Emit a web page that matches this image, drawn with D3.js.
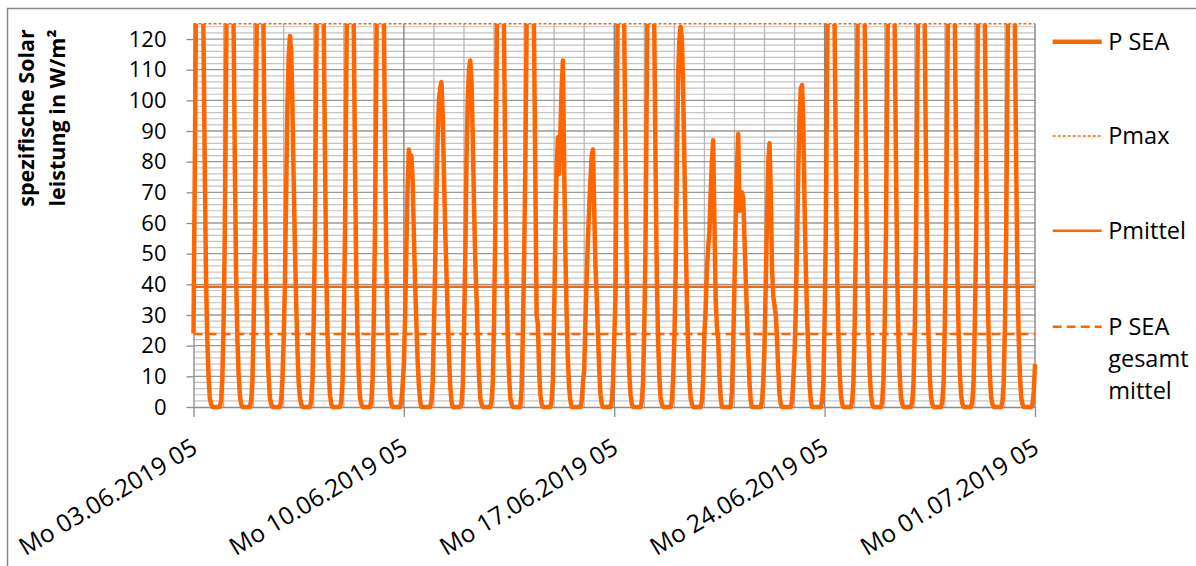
<!DOCTYPE html>
<html>
<head>
<meta charset="utf-8">
<script src="https://cdn.jsdelivr.net/npm/d3@7"></script>
<style>
  body { margin: 0; background: #fff; }
  svg { display: block; font-family: "Open Sans", sans-serif; }
</style>
</head>
<body>
<svg id="chart" width="1196" height="566"></svg>
<script>
// P SEA, hourly values per day: 05:00 .. 04:00 next day (W/m²)
var pSea = [
  [24,75,132,172,192,198,188,160,120,78,42,22,10,3,1,0,0,0,0,0,0,0,2,9],   // Mo 03.06
  [27,56,108,155,186,196,190,163,124,80,44,23,11,4,1,0,0,0,0,0,0,0,2,8],   // Di 04.06
  [26,54,104,150,182,192,184,158,118,76,41,21,10,3,1,0,0,0,0,0,0,0,2,9],   // Mi 05.06
  [22,40,70,98,114,121,116,98,74,52,34,19,8,3,1,0,0,0,0,0,0,0,2,9],        // Do 06.06
  [28,58,110,158,188,199,192,165,126,82,45,24,11,4,1,0,0,0,0,0,0,0,2,8],   // Fr 07.06
  [27,57,106,154,185,195,187,161,122,79,43,23,10,3,1,0,0,0,0,0,0,0,2,9],   // Sa 08.06
  [29,60,112,160,190,200,193,166,127,83,46,25,12,4,1,0,0,0,0,0,0,0,2,7],   // So 09.06
  [14,30,52,72,84,80,82,74,56,40,27,15,7,2,0,0,0,0,0,0,0,0,2,8],           // Mo 10.06
  [26,46,70,88,100,104,106,95,76,58,44,30,17,7,2,0,0,0,0,0,0,0,1,7],       // Di 11.06
  [25,48,80,100,110,113,106,88,66,48,36,22,10,3,1,0,0,0,0,0,0,0,2,8],      // Mi 12.06
  [28,58,110,156,186,196,188,160,120,78,42,22,10,3,1,0,0,0,0,0,0,0,6,24],  // Do 13.06
  [48,78,124,166,192,198,190,160,118,74,30,27,12,4,1,0,0,0,0,0,0,0,2,9],   // Fr 14.06
  [30,58,78,88,76,90,104,113,78,50,30,15,6,2,0,0,0,0,0,0,0,0,2,8],         // Sa 15.06
  [12,28,42,55,65,74,82,84,64,46,36,24,12,4,1,0,0,0,0,0,0,0,2,8],          // So 16.06
  [22,36,92,145,180,194,188,162,122,80,44,23,11,4,1,0,0,0,0,0,0,0,2,8],    // Mo 17.06
  [26,54,106,154,186,196,190,162,122,78,42,22,10,3,1,0,0,0,0,0,0,0,2,9],   // Di 18.06
  [22,42,80,108,120,124,120,104,80,56,36,20,9,3,1,0,0,0,0,0,0,0,2,9],      // Mi 19.06
  [24,32,45,52,57,70,80,87,60,35,26,22,10,3,0,0,0,0,0,0,0,0,5,20],         // Do 20.06
  [40,62,78,89,64,68,70,68,55,42,30,18,8,2,0,0,0,0,0,0,0,0,2,8],           // Fr 21.06
  [20,40,62,80,86,70,45,36,33,30,22,12,4,1,0,0,0,0,0,0,0,0,2,9],           // Sa 22.06
  [18,32,55,78,95,104,105,92,65,45,30,16,7,2,0,0,0,0,0,0,0,0,2,8],         // So 23.06
  [28,58,110,158,188,198,190,162,122,80,44,23,11,4,1,0,0,0,0,0,0,0,2,8],   // Mo 24.06
  [27,56,108,155,186,196,190,163,124,80,44,23,11,4,1,0,0,0,0,0,0,0,2,9],   // Di 25.06
  [28,57,107,156,187,197,189,161,121,79,43,22,10,3,1,0,0,0,0,0,0,0,2,8],   // Mi 26.06
  [26,55,105,152,184,194,188,160,120,78,42,22,10,3,1,0,0,0,0,0,0,0,2,8],   // Do 27.06
  [27,58,109,157,188,198,191,164,125,81,45,24,11,4,1,0,0,0,0,0,0,0,2,9],   // Fr 28.06
  [28,56,107,155,186,196,189,162,122,79,43,22,10,3,1,0,0,0,0,0,0,0,2,8],   // Sa 29.06
  [27,57,108,156,187,197,190,161,121,78,42,22,10,3,1,0,0,0,0,0,0,0,1,5]    // So 30.06
];
var pSeaLast = 14;          // Mo 01.07.2019 05
var pMax = 125;
var pMittel = 39.2;
var pSeaGesamtMittel = 23.8;

var xTickLabels = ["Mo 03.06.2019 05", "Mo 10.06.2019 05", "Mo 17.06.2019 05", "Mo 24.06.2019 05", "Mo 01.07.2019 05"];
var yTicks = [0, 10, 20, 30, 40, 50, 60, 70, 80, 90, 100, 110, 120];
var legendLabels = [["P SEA"], ["Pmax"], ["Pmittel"], ["P SEA", "gesamt", "mittel"]];

var orange = "#ff6600";
var values = d3.merge(pSea).concat([pSeaLast]);
var nHours = values.length - 1;

var plot = {left: 193.5, right: 1035, top: 23.7, bottom: 407};

var x = d3.scaleLinear().domain([0, nHours]).range([plot.left, plot.right]);
var y = d3.scaleLinear().domain([0, pMax]).range([plot.bottom, plot.top]);

var svg = d3.select("#chart");

// outer frame (only left + top visible in the crop)
svg.append("path")
    .attr("d", "M7.5,566V8.5H1196")
    .attr("fill", "none")
    .attr("stroke", "#8a8a8a")
    .attr("stroke-width", 1.5);

// ************** grid *****************
var grid = svg.append("g");

grid.selectAll(".hminor")
    .data(d3.range(2, pMax, 2).filter(function(v) { return v % 10 != 0; }))
    .enter().append("line")
    .attr("x1", plot.left).attr("x2", plot.right)
    .attr("y1", function(d) { return y(d); })
    .attr("y2", function(d) { return y(d); })
    .attr("stroke", "#c4c4c4")
    .attr("stroke-width", 1.2);

grid.selectAll(".vminor")
    .data(d3.range(24, nHours, 24).filter(function(h) { return h % 168 != 0; }))
    .enter().append("line")
    .attr("x1", function(d) { return x(d); })
    .attr("x2", function(d) { return x(d); })
    .attr("y1", plot.top).attr("y2", plot.bottom)
    .attr("stroke", "#b8b8b8")
    .attr("stroke-width", 1.3);

grid.selectAll(".hmajor")
    .data(yTicks.slice(1))
    .enter().append("line")
    .attr("x1", plot.left).attr("x2", plot.right)
    .attr("y1", function(d) { return y(d); })
    .attr("y2", function(d) { return y(d); })
    .attr("stroke", "#9a9a9a")
    .attr("stroke-width", 1.3);

grid.selectAll(".vmajor")
    .data(d3.range(168, nHours + 1, 168))
    .enter().append("line")
    .attr("x1", function(d) { return x(d); })
    .attr("x2", function(d) { return x(d); })
    .attr("y1", plot.top).attr("y2", plot.bottom)
    .attr("stroke", "#858585")
    .attr("stroke-width", 1.4);

// ************** axes *****************
var yAxis = svg.append("g")
    .attr("transform", "translate(" + plot.left + ",0)")
    .call(d3.axisLeft(y).tickValues(yTicks).tickSizeInner(7).tickSizeOuter(0).tickPadding(20));
yAxis.select(".domain").attr("stroke", "#8c8c8c").attr("stroke-width", 1.3);
yAxis.selectAll(".tick line").attr("stroke", "#8c8c8c").attr("stroke-width", 1.3);
yAxis.selectAll(".tick text")
    .attr("fill", "#000")
    .style("font-size", "22px")
    .style("font-family", "'Open Sans', sans-serif");

var xAxis = svg.append("g")
    .attr("transform", "translate(0," + plot.bottom + ")")
    .call(d3.axisBottom(x)
        .tickValues(d3.range(0, nHours + 1, 168))
        .tickSizeInner(10).tickSizeOuter(0)
        .tickFormat(function(d, i) { return xTickLabels[i]; }));
xAxis.select(".domain").attr("stroke", "#8c8c8c").attr("stroke-width", 1.3);
xAxis.selectAll(".tick line").attr("stroke", "#8c8c8c").attr("stroke-width", 1.3);
xAxis.selectAll(".tick text")
    .attr("fill", "#000")
    .attr("text-anchor", "end")
    .attr("x", 5).attr("y", 45).attr("dy", null)
    .attr("transform", "rotate(-31,5,45)")
    .style("font-size", "24.5px")
    .style("font-family", "'Open Sans', sans-serif");

// y title
var yTitle = ["spezifische Solar", "leistung in W/m\u00b2"];
svg.selectAll(".ytitle")
    .data(yTitle)
    .enter().append("text")
    .attr("transform", function(d, i) { return "translate(" + (34 + i * 31) + ",118) rotate(-90)"; })
    .attr("text-anchor", "middle")
    .style("font-size", "21.5px")
    .style("font-weight", "bold")
    .text(function(d) { return d; });

// ************** series *****************
svg.append("clipPath").attr("id", "plotclip")
    .append("rect")
    .attr("x", plot.left - 3).attr("y", plot.top)
    .attr("width", plot.right - plot.left + 6).attr("height", plot.bottom - plot.top + 4);

var refLines = [
    {v: pSeaGesamtMittel, w: 2.5, dash: "9,5"},
    {v: pMittel, w: 2.5, dash: null},
    {v: pMax, w: 1.4, dash: "3,2"}
];
svg.selectAll(".ref")
    .data(refLines)
    .enter().append("line")
    .attr("x1", plot.left).attr("x2", plot.right)
    .attr("y1", function(d) { return y(d.v); })
    .attr("y2", function(d) { return y(d.v); })
    .attr("stroke", orange)
    .attr("stroke-width", function(d) { return d.w; })
    .attr("stroke-dasharray", function(d) { return d.dash; });

var line = d3.line()
    .x(function(d, i) { return x(i); })
    .y(function(d) { return y(d); });

svg.append("path")
    .datum(values)
    .attr("clip-path", "url(#plotclip)")
    .attr("d", line)
    .attr("fill", "none")
    .attr("stroke", orange)
    .attr("stroke-width", 4.5)
    .attr("stroke-linejoin", "round");

// ************** legend *****************
var legendY = [41.7, 136, 230.7, 326.7];
var legendStyle = [
    {w: 4.5, dash: null},
    {w: 1.4, dash: "3,2"},
    {w: 2.5, dash: null},
    {w: 2.5, dash: "9,5"}
];
var legend = svg.selectAll(".legend")
    .data(legendLabels)
    .enter().append("g")
    .attr("transform", function(d, i) { return "translate(1052.7," + legendY[i] + ")"; });

legend.append("line")
    .attr("x1", 0).attr("x2", 49)
    .attr("stroke", orange)
    .attr("stroke-width", function(d, i) { return legendStyle[i].w; })
    .attr("stroke-dasharray", function(d, i) { return legendStyle[i].dash; });

legend.append("text")
    .attr("x", 55.5)
    .attr("y", 8)
    .style("font-size", "23.5px")
    .selectAll("tspan")
    .data(function(d) { return d; })
    .enter().append("tspan")
    .attr("x", 55.5)
    .attr("dy", function(d, i) { return i == 0 ? 0 : 32; })
    .text(function(d) { return d; });
</script>
</body>
</html>
